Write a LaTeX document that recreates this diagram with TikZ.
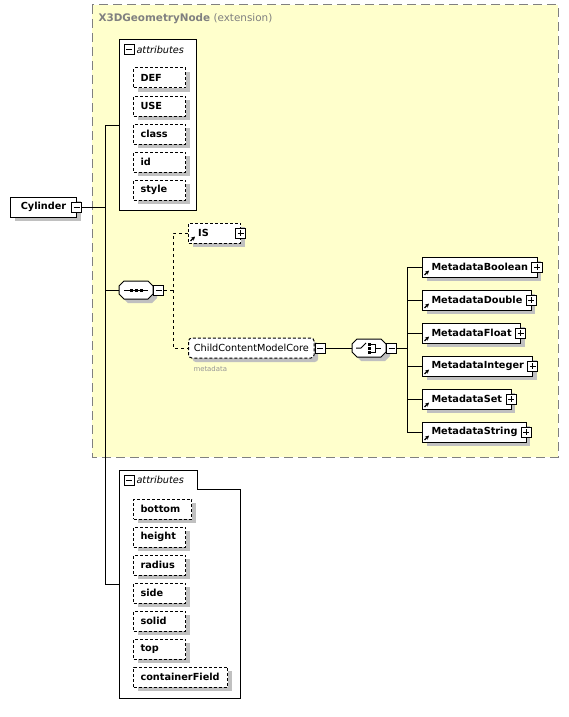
\documentclass[tikz,border=0pt]{standalone}
\usepackage{fontspec}
\setmainfont{DejaVu Sans}
\usetikzlibrary{shadows,arrows.meta}

\definecolor{extfill}{RGB}{255,255,204}
\definecolor{extline}{RGB}{128,128,128}
\definecolor{shade}{RGB}{192,192,192}
\definecolor{notegray}{RGB}{150,150,150}

\tikzset{
	shadowed/.style={drop shadow={shadow xshift=3pt,shadow yshift=-3pt,fill=shade,opacity=1}},
	elem/.style={draw,fill=white,shadowed,font=\fontsize{7.3}{9}\selectfont\bfseries,minimum height=15pt,inner ysep=0pt,anchor=west},
	attr/.style={elem,dash pattern=on 2.25pt off 1.5pt,text width=28.5pt,inner xsep=5.25pt},
	meta/.style={elem,inner xsep=6.75pt},
	grp/.style={elem,font=\fontsize{7.3}{9}\selectfont,rounded corners=2.5pt,dash pattern=on 2.25pt off 1.5pt,inner xsep=4pt},
	comp/.style={minimum width=25.5pt,minimum height=13.5pt,inner sep=0pt,outer sep=0pt,anchor=west},
	pm/.style={draw,fill=white,minimum size=7.5pt,inner sep=0pt,anchor=west},
	minus/.style={pm,path picture={\draw[shorten <=1.5pt,shorten >=1.5pt] (path picture bounding box.west) -- (path picture bounding box.east);}},
	plus/.style={pm,path picture={\draw[shorten <=1.5pt,shorten >=1.5pt] (path picture bounding box.west) -- (path picture bounding box.east);
		\draw[shorten <=1.5pt,shorten >=1.5pt] (path picture bounding box.north) -- (path picture bounding box.south);}},
	link/.style={-{Stealth[length=3pt,width=3pt]},line width=1pt},
	hdr/.style={anchor=west,inner sep=0pt,font=\fontsize{7.3}{9}\selectfont\itshape}
}
% octagon round a compositor node
\newcommand{\octo}[1]{%
	\draw[shadowed,fill=white] ([shift={(5,0)}]#1.north west) -- ([shift={(-5,0)}]#1.north east) -- ([shift={(0,5)}]#1.north east)
		-- ([shift={(0,-5)}]#1.south east) -- ([shift={(-5,0)}]#1.south east) -- ([shift={(5,0)}]#1.south west)
		-- ([shift={(0,-5)}]#1.south west) -- ([shift={(0,5)}]#1.north west) -- cycle;}

\begin{document}
\begin{tikzpicture}[x=0.75pt,y=0.75pt,yscale=-1,xscale=1,line width=0.75pt]
	\useasboundingbox (0,0) rectangle (568,717);
	
	% extension
	\draw[extline,fill=extfill,dash pattern=on 6.75pt off 3.75pt] (92,5) rectangle (558,457);
	\node[anchor=west,inner sep=0pt,text=extline,font=\fontsize{7.8}{9}\selectfont] (exttitle) at (98,19) {\textbf{X3DGeometryNode} (extension)};
	
	% Cylinder
	\node[elem,minimum width=49.5pt] (cyl) at (10,207) {Cylinder};
	\node[minus,xshift=-4.5pt] (cylm) at (cyl.east) {};
	\coordinate (cylbus) at (105,207);
	
	% attributes (X3DGeometryNode)
	\node[draw,fill=white,anchor=north west,minimum width=57.75pt,minimum height=128.25pt] (attrA) at (119,39) {};
	\node[minus,anchor=center] (attrAm) at (129,50) {};
	\node[hdr] (attrAt) at (136,50) {attributes};
	\foreach \nm [count=\i] in {DEF,USE,class,id,style}
		\node[attr] (a\i) at (133,50+28*\i) {\nm};
	
	% sequence
	\node[comp] (seq) at (119,290) {};
	\octo{seq}
	\node[minus] (seqm) at (seq.east) {};
	\draw ([shift={(-12,0)}]seq.center) -- ([shift={(12,0)}]seq.center);
	\foreach \dx in {-5,0,5}
		\fill ([shift={(\dx-1.5,-1.5)}]seq.center) rectangle ++(3,3);
	\coordinate (seqbus) at (173,290);
	
	% IS
	\node[attr] (is) at (188,233) {\hspace{2pt}IS};
	\node[plus,xshift=-4.5pt] (isp) at (is.east) {};
	\draw[link] ([shift={(2.5,-2.5)}]is.south west) -- ++(4.5,-4.5);
	
	% ChildContentModelCore
	\node[grp] (ccmc) at (188,348) {ChildContentModelCore};
	\node[minus] (ccmcm) at (ccmc.east) {};
	\node[anchor=north west,inner sep=0pt,text=notegray,font=\fontsize{5.2}{6}\selectfont] (ccmcnote) at (193,366) {metadata};
	
	% choice
	\node[comp] (ch) at (352,348) {};
	\octo{ch}
	\node[minus] (chm) at (ch.east) {};
	\draw ([shift={(-13,0)}]ch.center) -- ([shift={(-8,0)}]ch.center) -- ([shift={(-3,-5)}]ch.center);
	\foreach \dy in {-4,0,4}
		\fill ([shift={(-1.5,\dy-1.5)}]ch.center) rectangle ++(3,3);
	\draw ([shift={(2,-4)}]ch.center) -- ([shift={(6,-4)}]ch.center) -- ([shift={(6,4)}]ch.center) -- ([shift={(2,4)}]ch.center);
	\draw ([shift={(6,0)}]ch.center) -- ([shift={(12,0)}]ch.center);
	\coordinate (chbus) at (407,348);
	
	% Metadata elements
	\foreach \nm [count=\i] in {Boolean,Double,Float,Integer,Set,String} {
		\node[meta] (m\i) at (422,234+33*\i) {Metadata\nm\hspace{3pt}};
		\node[plus,xshift=-4.5pt] (m\i p) at (m\i.east) {};
		\draw[link] ([shift={(2.5,-2.5)}]m\i.south west) -- ++(4.5,-4.5);
		\draw (chbus) |- (m\i.west);
	}
	
	% attributes (Cylinder)
	\node[minimum width=90pt,minimum height=170.25pt,anchor=north west,inner sep=0pt] (attrB) at (119,470) {};
	\draw[fill=white] (attrB.north west) -- ++(78,0) -- ++(0,19) -| (attrB.south east) -| (attrB.north west) -- cycle;
	\node[minus,anchor=center] (attrBm) at (129,480) {};
	\node[hdr] (attrBt) at (136,480) {attributes};
	\foreach \nm/\tw [count=\i] in {bottom/33pt,height/28.5pt,radius/28.5pt,side/28.5pt,solid/28.5pt,top/28.5pt,containerField/60pt}
		\node[attr,text width=\tw] (b\i) at (133,481+28*\i) {\nm};
	
	% connectors
	\draw (cylm.east) -- (cylbus);
	\draw (cylbus) |- (attrA.west);
	\draw (cylbus) |- (seq.west);
	\draw (cylbus) |- (attrB.west);
	\draw[dash pattern=on 2.25pt off 2.25pt] (seqm.east) -- (seqbus) |- (is.west);
	\draw[dash pattern=on 2.25pt off 2.25pt] (seqbus) |- (ccmc.west);
	\draw (ccmcm.east) -- (ch.west);
	\draw (chm.east) -- (chbus);
\end{tikzpicture}
\end{document}
